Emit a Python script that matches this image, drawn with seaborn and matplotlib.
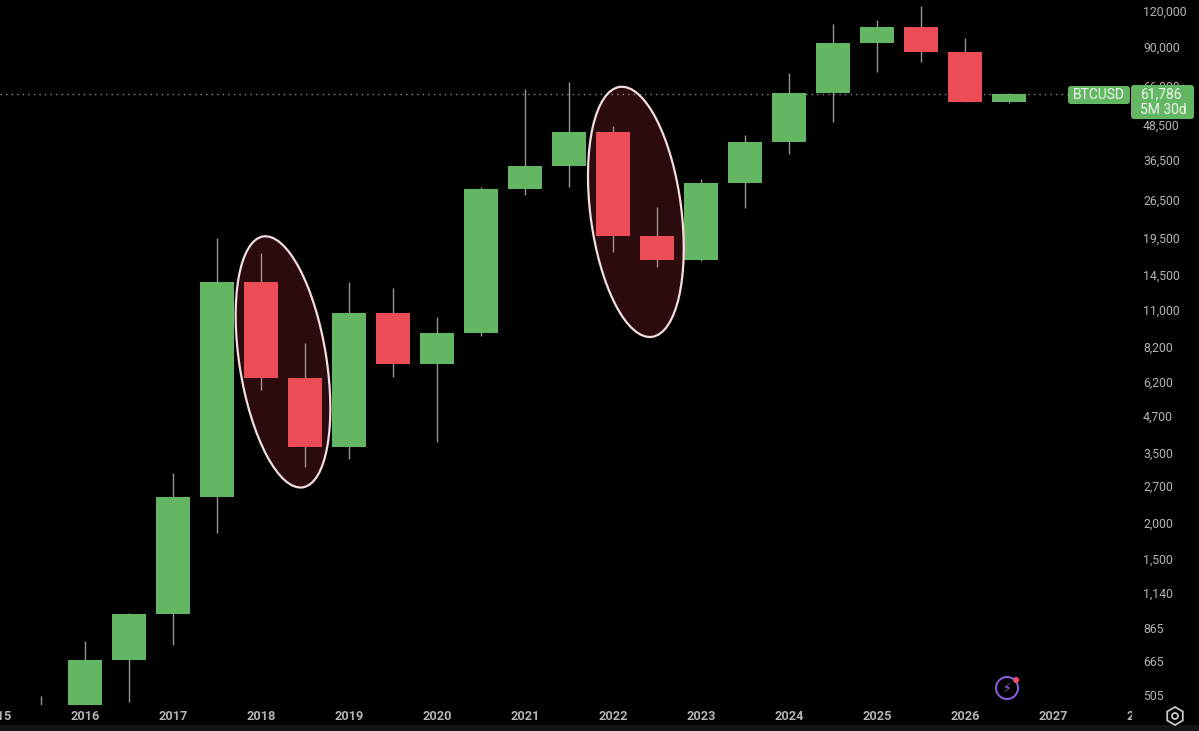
import numpy as np
import pandas as pd
import matplotlib
matplotlib.use("Agg")
import matplotlib.pyplot as plt
import matplotlib.patches as mpatches
import matplotlib.transforms as mtransforms
from matplotlib.ticker import NullLocator
import seaborn as sns

# half-year BTCUSD candles (period start, OHLC)
periods = ["2015-07", "2016-01", "2016-07", "2017-01", "2017-07", "2018-01",
           "2018-07", "2019-01", "2019-07", "2020-01", "2020-07", "2021-01",
           "2021-07", "2022-01", "2022-07", "2023-01", "2023-07", "2024-01",
           "2024-07", "2025-01", "2025-07", "2026-01", "2026-07"]
opens = [265, 430, 668, 966, 2459, 13730, 6370, 3672, 10720, 7120, 9140, 28900,
         34800, 45600, 19850, 16400, 30350, 42200, 62300, 93200, 105300, 86400, 58000]
highs = [500, 778, 975, 2980, 19550, 17330, 8440, 13730, 13100, 10400, 29300, 64400,
         68000, 47800, 25000, 31200, 44500, 73000, 108300, 111700, 124700, 96900, 62400]
lows = [250, 365, 478, 753, 1845, 5790, 3130, 3340, 6410, 3820, 8900, 27600,
        29400, 17470, 15500, 16300, 24840, 38300, 49400, 73700, 80000, 57800, 57600]
closes = [430, 668, 966, 2459, 13730, 6370, 3672, 10720, 7120, 9140, 28900, 34800,
          45600, 19850, 16400, 30350, 42200, 62300, 93200, 105300, 86400, 58000, 61786]

price_ticks = [505, 665, 865, 1140, 1500, 2000, 2700, 3500, 4700, 6200, 8200, 11000,
               14500, 19500, 26500, 36500, 48500, 66000, 90000, 120000]
year_labels = [str(y) for y in range(2015, 2029)]

symbol = "BTCUSD"
last_price = 61786
countdown = "5M 30d"

# highlighted bear candles: (center year, center price, width px, height px, tilt deg)
highlights = [(2018.25, 7250, 87, 254, 9.0), (2022.26, 24070, 91, 252, 7.3)]

df = pd.DataFrame({"period": pd.to_datetime(periods), "open": opens, "high": highs,
                   "low": lows, "close": closes})
df["x"] = df["period"].dt.year + (df["period"].dt.month - 1) / 12
df["up"] = df["close"] >= df["open"]

sns.set_theme(style="dark", rc={"axes.facecolor": "black", "figure.facecolor": "black",
                                "savefig.facecolor": "black"})
plt.rcParams["font.family"] = ["Roboto", "DejaVu Sans"]

GREEN = "#63b763"
RED = "#ec4c56"
W, H = 1199, 731

fig = plt.figure(figsize=(W / 100, H / 100), dpi=100)
ax = fig.add_axes([0, 26 / H, 1132 / W, 705 / H])
ax.set_facecolor("black")
ax.set_yscale("log")

# wicks and bodies
ax.vlines(df["x"], df["low"], df["high"], color="#959595", lw=1, zorder=2)
body_lo = np.minimum(df["open"], df["close"])
body_hi = np.maximum(df["open"], df["close"])
ax.bar(df["x"], body_hi - body_lo, bottom=body_lo, width=0.39,
       color=np.where(df["up"], GREEN, RED), linewidth=0, zorder=3)

# circled areas
for cx, cy, w, h, ang in highlights:
    tr = fig.dpi_scale_trans + mtransforms.ScaledTranslation(cx, cy, ax.transData)
    ax.add_patch(mpatches.Ellipse((0, 0), w / 100, h / 100, angle=ang, transform=tr,
                                  facecolor="#2c0b0f", edgecolor="none", zorder=1))
    ax.add_patch(mpatches.Ellipse((0, 0), w / 100, h / 100, angle=ang, transform=tr,
                                  facecolor="none", edgecolor="#f2dcdc", lw=1.6, zorder=4))

# last price line
ax.axhline(last_price, xmin=0, xmax=1068 / 1132, color="#8a8a8a", ls=(0, (1, 3)),
           lw=1, zorder=1)

ax.set_xlim(2015.034, 2027.898)
ax.set_ylim(466, 131100)
ax.yaxis.tick_right()
ax.set_yticks(price_ticks)
ax.set_yticklabels([f"{t:,}" for t in price_ticks])
ax.yaxis.set_minor_locator(NullLocator())
ax.tick_params(axis="y", length=0, pad=8, labelcolor="#b4b4b4", labelsize=8.8)
ax.set_xticks([])
ax.grid(False)
for s in ax.spines.values():
    s.set_visible(False)

# time scale strip
ax_t = fig.add_axes([0, 0, 1132 / W, 26 / H])
ax_t.set_facecolor("black")
ax_t.set_xlim(ax.get_xlim())
ax_t.set_ylim(0, 1)
ax_t.axis("off")
for lbl in year_labels:
    ax_t.text(int(lbl), 0.55, lbl, ha="center", va="center", fontsize=9.2,
              fontweight="semibold", color="#b4b4b4", clip_on=True)
fig.add_artist(mpatches.Rectangle((0, 0), 1, 6 / H, transform=fig.transFigure,
                                  facecolor="#141414", edgecolor="none", zorder=0))


def px(x, y):
    return x / 100, (H - y) / 100


inch = fig.dpi_scale_trans
# symbol and price pills
x0, y0 = px(1068, 104)
fig.add_artist(mpatches.FancyBboxPatch((x0, y0), 0.62, 0.18, boxstyle="round,pad=0,rounding_size=0.03",
                                       transform=inch, facecolor=GREEN, edgecolor="none", zorder=5))
fig.text(*px(1099, 95), symbol, transform=inch, ha="center", va="center",
         fontsize=10, color="#eef7ee", zorder=6)
x0, y0 = px(1131, 119)
fig.add_artist(mpatches.FancyBboxPatch((x0, y0), 0.63, 0.34, boxstyle="round,pad=0,rounding_size=0.03",
                                       transform=inch, facecolor=GREEN, edgecolor="none", zorder=5))
fig.text(*px(1140, 94), f"{last_price:,}", transform=inch, ha="left", va="center",
         fontsize=10, color="#eef7ee", zorder=6)
fig.text(*px(1140, 110), countdown, transform=inch, ha="left", va="center",
         fontsize=10, color="#eef7ee", zorder=6)

# small icons
fig.add_artist(mpatches.Circle(px(1007, 688), 0.11, transform=inch, facecolor="none",
                               edgecolor="#8e5fe0", lw=1.4, zorder=5))
fig.text(*px(1007, 688), "\u26a1", transform=inch, ha="center", va="center",
         fontsize=9, color="#9b6cf0", family=["DejaVu Sans"], zorder=6)
fig.add_artist(mpatches.Circle(px(1016, 680), 0.03, transform=inch, facecolor="#f0506a",
                               edgecolor="none", zorder=6))
fig.add_artist(mpatches.RegularPolygon(px(1175, 716), 6, radius=0.09, transform=inch,
                                       facecolor="none", edgecolor="#c8c8c8", lw=1.3, zorder=5))
fig.add_artist(mpatches.Circle(px(1175, 716), 0.03, transform=inch, facecolor="none",
                               edgecolor="#c8c8c8", lw=1.3, zorder=5))

fig.savefig("out.png", dpi=100, facecolor="black")
